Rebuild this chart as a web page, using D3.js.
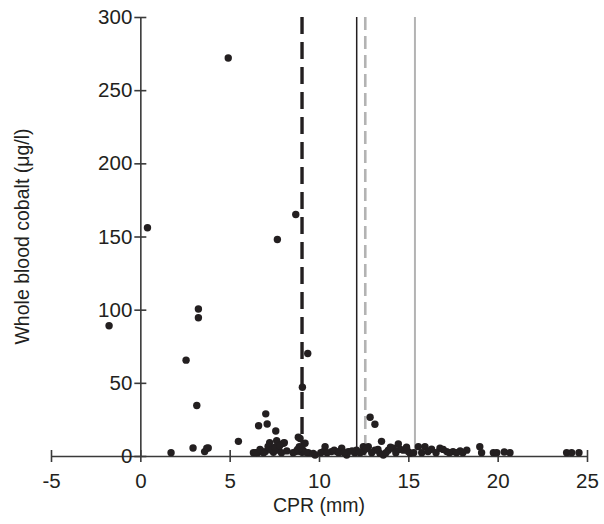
<!DOCTYPE html>
<html>
<head>
<meta charset="utf-8">
<script src="https://cdn.jsdelivr.net/npm/d3@7"></script>
<style>
  body { margin: 0; background: #fff; }
  text { font-family: "Liberation Sans", Arial, sans-serif; fill: #231f20; }
</style>
</head>
<body>
<svg id="drawing_region"></svg>
<script>
// values (CPR in mm, cobalt in µg/l)
var cpr = [
  -1.75, 0.4, 2.56, 3.25, 3.25, 3.16, 4.92, 7.67, 8.7, 9.37, 9.07,
  1.72, 2.95, 3.6, 3.72, 3.8, 5.49, 6.33, 6.57, 6.62, 7.02, 7.1, 7.58,
  7.24, 7.63, 8.06, 8.84, 8.94, 9.22, 8.9, 6.8, 7.0, 7.26, 7.72, 7.9,
  7.45, 8.0, 8.7, 8.95, 9.1, 9.4, 9.68, 9.78, 10.34, 10.24, 10.7, 10.99,
  11.27, 11.55, 11.64, 12.0, 12.1, 12.48, 12.48, 12.86, 13.13, 13.5,
  13.6, 14.44, 12.76, 13.13, 13.41, 13.88, 14.16, 14.72, 15.0, 15.1,
  15.56, 15.93, 16.3, 16.77, 17.15, 17.5, 17.9, 18.27, 19.0, 19.1,
  19.76, 19.95, 20.37, 20.69, 23.86, 24.14, 24.55,
  6.45, 6.7, 6.9, 7.15, 7.35, 7.55, 7.8, 8.2, 8.55, 8.8, 9.0, 9.25,
  10.1, 10.45, 10.85, 11.1, 11.4, 11.85, 12.3, 12.65, 12.95, 13.3,
  13.75, 14.0, 14.3, 14.55, 14.9, 15.3, 15.75, 16.1, 16.55, 16.95,
  17.3, 17.7, 18.05
];
var cobalt = [
  89, 156, 65.5, 100.5, 94.5, 34.5, 272, 148, 165, 70, 47,
  2.3, 5.5, 3, 5.3, 5.5, 10, 2.3, 2.3, 20.7, 28.8, 21.9, 17.1,
  9.1, 10.5, 9.1, 12.8, 12, 8.7, 6.4, 3, 3, 5.5, 4, 2.3,
  2.5, 8.7, 3, 3, 4, 2.3, 1.8, 0.7, 6.4, 3, 3, 3,
  5.3, 0.7, 3, 2.3, 4, 6.4, 3, 26.5, 21.7, 10,
  0.7, 8.2, 6.4, 4, 1.8, 4, 5.3, 4, 3, 1.8,
  6.4, 6.4, 4.6, 5.3, 3, 3, 3.4, 4, 6.4, 2.3,
  2.3, 2.3, 2.7, 2.3, 2.3, 2.3, 2.3,
  2.3, 4.5, 2.3, 6.5, 4, 6, 7, 3.5, 2.3, 4.5, 5.5, 2.5,
  2.3, 2.3, 4, 2.3, 2.3, 3.5, 2.3, 5, 2.3, 4.5,
  2.3, 6, 2.3, 4.5, 6, 2.3, 2.3, 3, 2.3, 4.5,
  2.3, 2.3, 2.3
];
var xTicks = [-5, 0, 5, 10, 15, 20, 25];
var yTicks = [0, 50, 100, 150, 200, 250, 300];
// vertical reference lines (mm)
var refValues = [9.05, 12.11, 12.59, 15.37];

var refStyles = [
  {color:'#231f20', width:3.4, dash:'17,8'},
  {color:'#231f20', width:1.5, dash:null},
  {color:'#b3b3b3', width:2.6, dash:'13,6'},
  {color:'#b3b3b3', width:2, dash:null}
];

var config = {
  width: 604,
  height: 524,
  margin: {top:17, right:17, bottom:68, left:51}
};

var svg = d3.select('#drawing_region')
  .attr('width', config.width)
  .attr('height', config.height);

var inner_width = config.width - config.margin.left - config.margin.right;
var inner_height = config.height - config.margin.top - config.margin.bottom;

var chart = svg.append('g')
  .attr('transform', `translate(${config.margin.left}, ${config.margin.top})`);

var xscale = d3.scaleLinear().domain([-5, 25]).range([0, inner_width]);
var yscale = d3.scaleLinear().domain([0, 300]).range([inner_height, 0]);

// reference lines
chart.selectAll('.ref')
  .data(refValues)
  .enter()
  .append('line')
  .attr('class', 'ref')
  .attr('x1', d => xscale(d))
  .attr('x2', d => xscale(d))
  .attr('y1', yscale(300))
  .attr('y2', yscale(0))
  .attr('stroke', (d, i) => refStyles[i].color)
  .attr('stroke-width', (d, i) => refStyles[i].width)
  .attr('stroke-dasharray', (d, i) => refStyles[i].dash);

// axes
var xaxis = d3.axisBottom(xscale)
  .tickValues(xTicks)
  .tickFormat(d => String(d))
  .tickSizeOuter(0)
  .tickPadding(11);

var xaxis_group = chart.append('g')
  .attr('transform', `translate(0, ${inner_height})`)
  .call(xaxis);

xaxis_group.selectAll('.tick line').attr('y1', -6).attr('y2', 6);

var yaxis = d3.axisLeft(yscale)
  .tickValues(yTicks)
  .tickSizeOuter(0)
  .tickPadding(2);

var yaxis_group = chart.append('g')
  .attr('transform', `translate(${xscale(0)}, 0)`)
  .call(yaxis);

yaxis_group.selectAll('.tick line').attr('x1', -6).attr('x2', 6);

[xaxis_group, yaxis_group].forEach(g => {
  g.select('.domain').attr('stroke', '#3a3a3a').attr('stroke-width', 1.6);
  g.selectAll('.tick line').attr('stroke', '#3a3a3a').attr('stroke-width', 1.6);
  g.selectAll('.tick text')
    .attr('font-size', 20.5)
    .attr('font-family', '"Liberation Sans", Arial, sans-serif')
    .attr('fill', '#231f20');
});

// points
chart.selectAll('circle')
  .data(cpr.map((d, i) => ({x: d, y: cobalt[i]})))
  .enter()
  .append('circle')
  .attr('cx', d => xscale(d.x))
  .attr('cy', d => yscale(d.y))
  .attr('r', 3.7)
  .attr('fill', '#231f20');

// titles
svg.append('text')
  .attr('x', config.margin.left + xscale(10))
  .attr('y', 512)
  .attr('text-anchor', 'middle')
  .attr('font-size', 19.5)
  .text('CPR (mm)');

svg.append('text')
  .attr('transform', `translate(29, ${config.margin.top + inner_height / 2}) rotate(-90)`)
  .attr('text-anchor', 'middle')
  .attr('font-size', 19.5)
  .text('Whole blood cobalt (μg/l)');
</script>
</body>
</html>
